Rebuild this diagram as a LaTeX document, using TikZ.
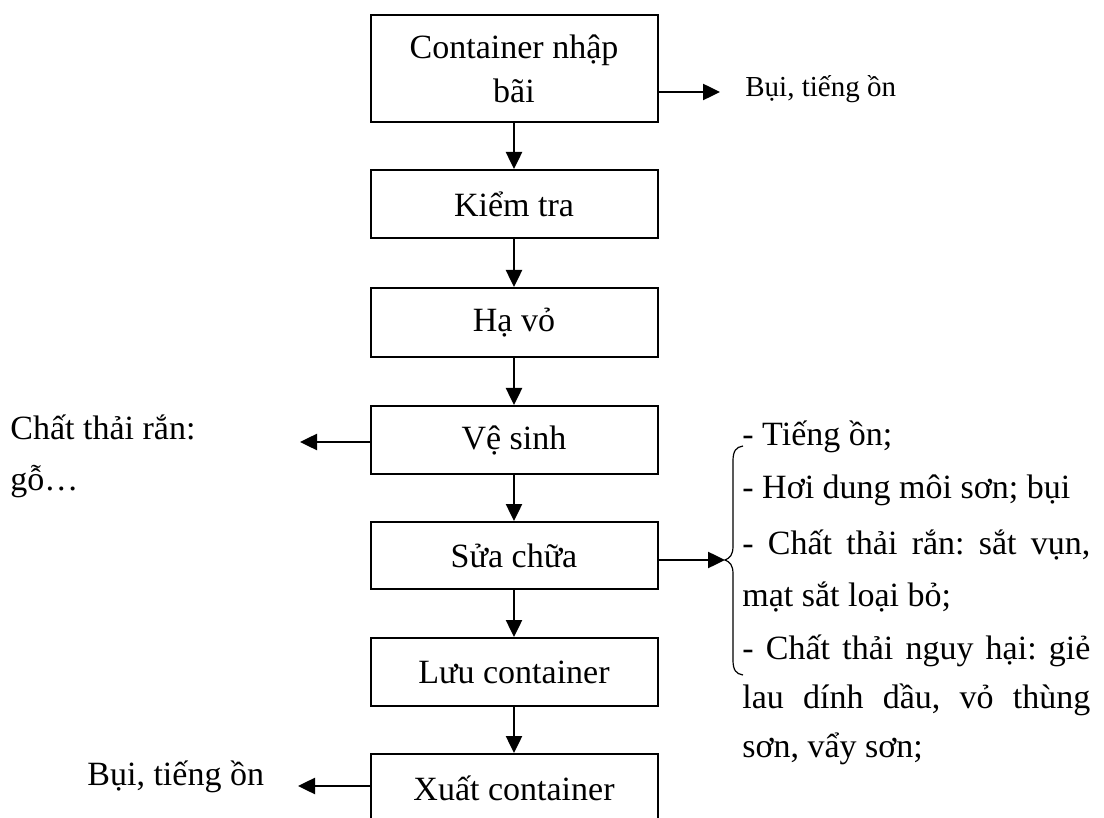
\documentclass[tikz,border=0pt]{standalone}
\usepackage{fontspec}
\setmainfont{Liberation Serif}
\usetikzlibrary{arrows.meta}
\frenchspacing
\begin{document}
\begin{tikzpicture}[x=0.5pt,y=-0.5pt,
  box/.style={draw, line width=1pt, minimum width=143.5pt, inner sep=0pt, align=center,
    font=\fontsize{17}{22}\selectfont},
  arr/.style={line width=1.25pt, -{Triangle[length=8.5pt,width=8pt]}},
  lbl/.style={inner sep=0pt, anchor=base west, font=\fontsize{17}{26}\selectfont},
  small/.style={inner sep=0pt, anchor=base west, font=\fontsize{14.5}{18}\selectfont},
  brace/.style={line width=0.6pt}]
\path[fill=white] (0,0) rectangle (1104,818);
\useasboundingbox (0,0) rectangle (1104,818);
\clip (0,0) rectangle (1104,818);

% main column
\node[box, minimum height=53.5pt] (b1) at (514,68.5) {Container nhập\\bãi};
\node[box, minimum height=34pt] (b2) at (514,204) {Kiểm tra};
\node[box, minimum height=34.5pt] (b3) at (514,322.5) {Hạ vỏ};
\node[box, minimum height=34pt] (b4) at (514,440) {Vệ sinh};
\node[box, minimum height=33.5pt] (b5) at (514,555.5) {Sửa chữa};
\node[box, minimum height=34pt] (b6) at (514,672) {Lưu container};
\node[box, minimum height=34pt] (b7) at (514,788) {Xuất container};

\draw[arr] (b1.south) -- (b2.north);
\draw[arr] (b2.south) -- (b3.north);
\draw[arr] (b3.south) -- (b4.north);
\draw[arr] (b4.south) -- (b5.north);
\draw[arr] (b5.south) -- (b6.north);
\draw[arr] (b6.south) -- (b7.north);

% side outputs
\coordinate (c1) at (720,92);
\node[small] (t1) at (745,97) {Bụi, tiếng ồn};
\draw[arr] (b1.east |- c1) -- (c1);

\coordinate (c2) at (300,442);
\node[lbl] (t2a) at (10,439) {Chất thải rắn:};
\node[lbl] (t2b) at (10,490) {gỗ…};
\draw[arr] (b4.west |- c2) -- (c2);

\coordinate (c3) at (725,560);
\draw[arr] (b5.east |- c3) -- (c3);
\draw[brace] (743,446) .. controls (736,447) and (733,451) .. (733,461)
  -- (733,546) .. controls (733,555) and (730,558) .. (725,560)
  .. controls (730,562) and (733,565) .. (733,574)
  -- (733,660) .. controls (733,670) and (736,674) .. (743,675);

\node[lbl] (r1) at (742,445) {- Tiếng ồn;};
\node[lbl] (r2) at (742,498) {- Hơi dung môi sơn; bụi};
\node[lbl] (r3) at (742,554) {\makebox[174pt][s]{- Chất thải rắn: sắt vụn,}};
\node[lbl] (r4) at (742,606) {mạt sắt loại bỏ;};
\node[lbl] (r5) at (742,659) {\makebox[174pt][s]{- Chất thải nguy hại: giẻ}};
\node[lbl] (r6) at (742,708) {\makebox[174pt][s]{lau dính dầu, vỏ thùng}};
\node[lbl] (r7) at (742,757) {sơn, vẩy sơn;};

\coordinate (c4) at (298,786);
\node[lbl] (t4) at (87,785) {Bụi, tiếng ồn};
\draw[arr] (b7.west |- c4) -- (c4);
\end{tikzpicture}
\end{document}
